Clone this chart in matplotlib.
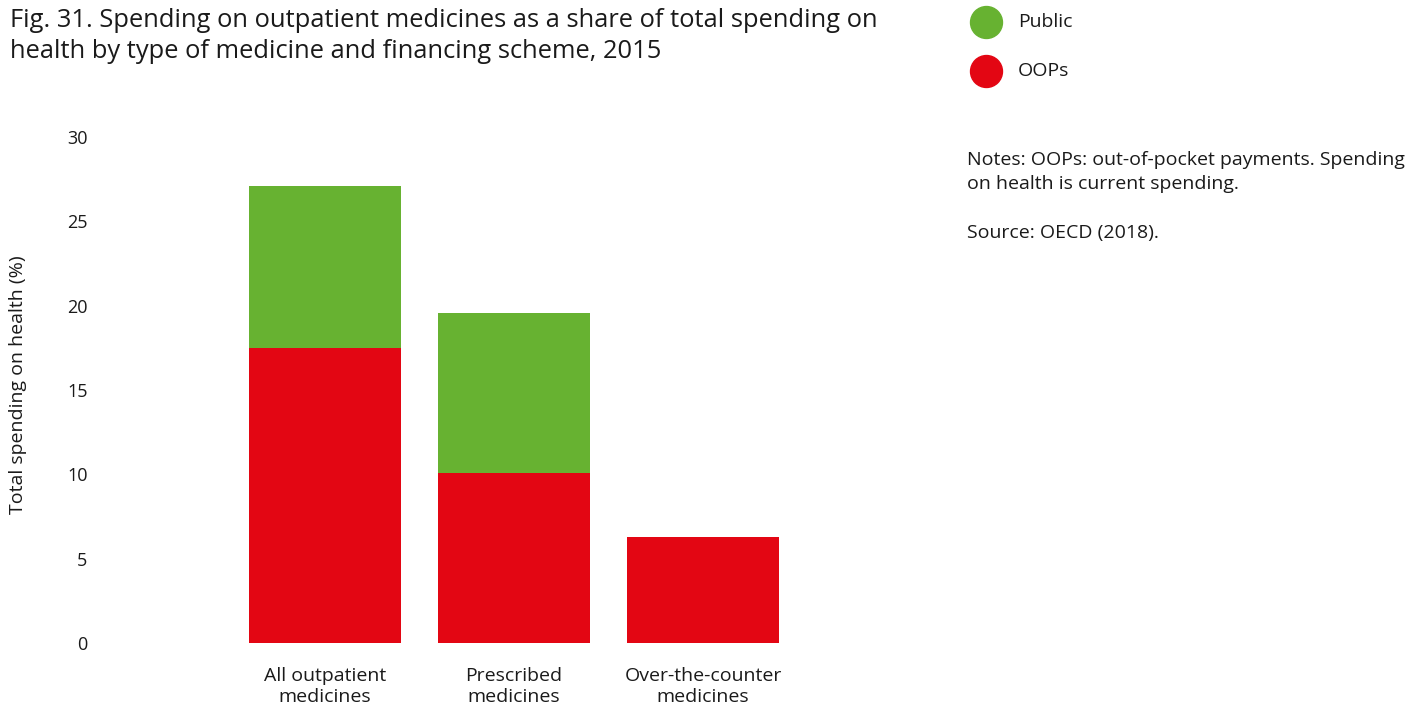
import matplotlib.pyplot as plt
from matplotlib.lines import Line2D
import numpy as np

plt.rcParams['font.family'] = ['Open Sans', 'DejaVu Sans']

#%% data
categories = ['All outpatient\nmedicines', 'Prescribed\nmedicines', 'Over-the-counter\nmedicines']
oops = [17.5, 10.1, 6.3]
public = [9.6, 9.45, 0.0]
series_names = ['Public', 'OOPs']
colors = {'Public': '#67b231', 'OOPs': '#e30613'}
y_ticks = [0, 5, 10, 15, 20, 25, 30]

#%% plot
W, H = 1421, 707
fig = plt.figure(figsize=(W / 100, H / 100), dpi=100)
# axes placed in pixel terms: left 100, right 900, bottom 643, top 137
ax = fig.add_axes([100 / W, (H - 643) / H, 800 / W, (643 - 137) / H])

x = np.arange(len(categories))
ax.bar(x, oops, width=0.804, color=colors['OOPs'])
ax.bar(x, public, width=0.804, bottom=oops, color=colors['Public'])

ax.set_xlim((100 - 325) / 189, (900 - 325) / 189)
ax.set_ylim(0, 30)
ax.set_yticks(y_ticks)
ax.set_yticklabels([str(t) for t in y_ticks], fontsize=13, color='#1a1a1a')
ax.set_xticks(x)
ax.set_xticklabels(categories, fontsize=14, color='#1a1a1a', linespacing=1.25)
ax.tick_params(axis='y', length=0, pad=9)
ax.tick_params(axis='x', length=0, pad=17)
for s in ax.spines.values():
    s.set_visible(False)

fig.text(18 / W, 1 - 385 / H, 'Total spending on health (%)', rotation=90,
         ha='center', va='center', fontsize=14, color='#1a1a1a')

# title
fig.text(10 / W, 1 - 8 / H,
         'Fig. 31. Spending on outpatient medicines as a share of total spending on\n'
         'health by type of medicine and financing scheme, 2015',
         ha='left', va='top', fontsize=18.4, color='#1a1a1a', linespacing=1.3)

# legend with circle markers
for i, name in enumerate(series_names):
    yy = 1 - (22 + 49 * i) / H
    fig.add_artist(Line2D([986 / W], [yy], transform=fig.transFigure, marker='o',
                          markersize=23, color=colors[name], linestyle='none'))
    fig.text(1018 / W, yy, name, ha='left', va='center', fontsize=14, color='#1a1a1a')

# notes
fig.text(967 / W, 1 - 151 / H,
         'Notes: OOPs: out-of-pocket payments. Spending\non health is current spending.\n\n'
         'Source: OECD (2018).',
         ha='left', va='top', fontsize=14, color='#1a1a1a', linespacing=1.45)

fig.savefig('out.png', dpi=100)
